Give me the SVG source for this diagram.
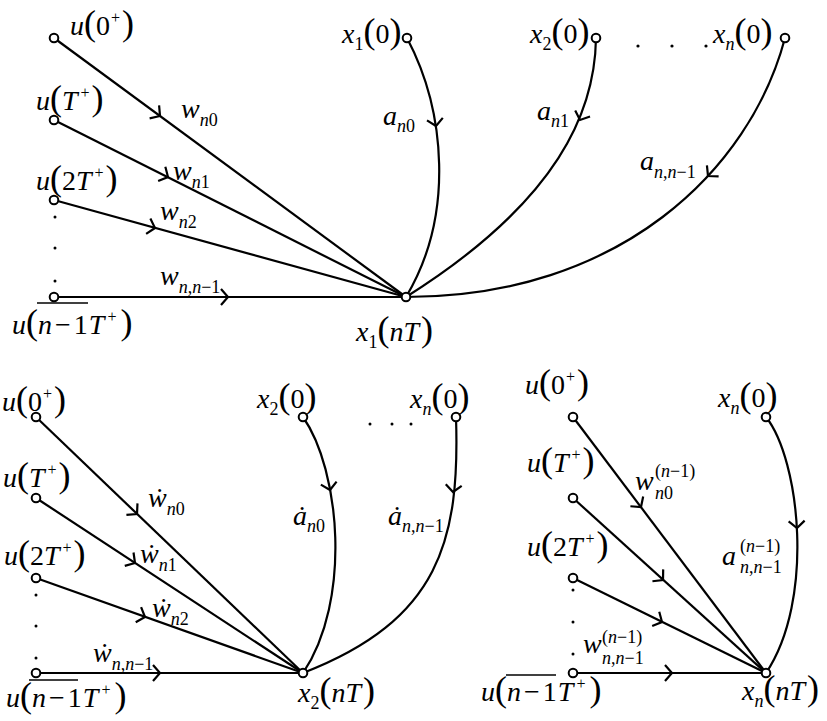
<svg xmlns="http://www.w3.org/2000/svg" xmlns:xlink="http://www.w3.org/1999/xlink" width="827" height="721" viewBox="0 0 827 721">
<style>
.lab{font-family:"Liberation Serif","Times New Roman",serif;font-size:28px;fill:#000}
.it{font-style:italic}
.pr{font-size:36px;font-style:normal}
.sb{font-size:18px}
.sp{font-size:16px}
.edge{fill:none;stroke:#000;stroke-width:2.2}
.nd{fill:#fff;stroke:#000;stroke-width:2}
.ol{stroke:#000;stroke-width:1.6}
.dot{fill:#000}
</style>
<defs>
<path id="ah" d="M-7,-8 L0,0 L-7,8" fill="none" stroke="#000" stroke-width="2.2"/>
</defs>
<rect width="827" height="721" fill="#fff"/>

<g id="connectors">
<path class="edge" d="M54,38 L406,297"/>
<path class="edge" d="M54,120 L406,297"/>
<path class="edge" d="M54,200 L406,297"/>
<path class="edge" d="M54,297 L406,297"/>
<path class="edge" d="M407,38 C445,110 455,215 406,297"/>
<path class="edge" d="M596,38 C595,110 560,200 406,297"/>
<path class="edge" d="M785,38 C750,170 620,297 406,297"/>
<use xlink:href="#ah" transform="translate(160,116) rotate(36.3)"/>
<use xlink:href="#ah" transform="translate(168,177) rotate(26.7)"/>
<use xlink:href="#ah" transform="translate(155,228) rotate(15.4)"/>
<use xlink:href="#ah" transform="translate(228,297)"/>
<use xlink:href="#ah" transform="translate(436,126) rotate(81)"/>
<use xlink:href="#ah" transform="translate(580,120) rotate(112)"/>
<use xlink:href="#ah" transform="translate(708,176) rotate(133)"/>
<path class="edge" d="M36,417 L303,673"/>
<path class="edge" d="M36,498 L303,673"/>
<path class="edge" d="M36,578 L303,673"/>
<path class="edge" d="M36,673 L303,673"/>
<path class="edge" d="M303,417 C340,470 352,600 303,673"/>
<path class="edge" d="M456,417 C460,540 440,620 303,673"/>
<use xlink:href="#ah" transform="translate(137,514) rotate(43.8)"/>
<use xlink:href="#ah" transform="translate(135,563) rotate(33.2)"/>
<use xlink:href="#ah" transform="translate(145,617) rotate(19.6)"/>
<use xlink:href="#ah" transform="translate(160,673)"/>
<use xlink:href="#ah" transform="translate(330,490) rotate(79.5)"/>
<use xlink:href="#ah" transform="translate(453,492) rotate(96)"/>
<path class="edge" d="M573,417 L766,673"/>
<path class="edge" d="M573,498 L766,673"/>
<path class="edge" d="M573,578 L766,673"/>
<path class="edge" d="M573,673 L766,673"/>
<path class="edge" d="M766,417 C800,460 815,600 766,673"/>
<use xlink:href="#ah" transform="translate(641,507) rotate(53)"/>
<use xlink:href="#ah" transform="translate(663,580) rotate(42.2)"/>
<use xlink:href="#ah" transform="translate(662,622) rotate(26.2)"/>
<use xlink:href="#ah" transform="translate(672,673)"/>
<use xlink:href="#ah" transform="translate(797,528) rotate(87)"/>
</g>

<g id="edge-labels">
<text class="lab" x="181" y="118"><tspan class="it">w</tspan><tspan class="sb" dy="8"><tspan class="it">n</tspan>0</tspan></text>
<text class="lab" x="173" y="180"><tspan class="it">w</tspan><tspan class="sb" dy="8"><tspan class="it">n</tspan>1</tspan></text>
<text class="lab" x="160" y="220"><tspan class="it">w</tspan><tspan class="sb" dy="8"><tspan class="it">n</tspan>2</tspan></text>
<text class="lab" x="160" y="285"><tspan class="it">w</tspan><tspan class="sb" dy="8"><tspan class="it">n</tspan>,<tspan class="it">n</tspan>−1</tspan></text>
<text class="lab" x="383" y="125"><tspan class="it">a</tspan><tspan class="sb" dy="7"><tspan class="it">n</tspan>0</tspan></text>
<text class="lab" x="537" y="120"><tspan class="it">a</tspan><tspan class="sb" dy="7"><tspan class="it">n</tspan>1</tspan></text>
<text class="lab" x="640" y="170"><tspan class="it">a</tspan><tspan class="sb" dy="8"><tspan class="it">n</tspan>,<tspan class="it">n</tspan>−1</tspan></text>

<text class="lab" x="148" y="507"><tspan class="it">ẇ</tspan><tspan class="sb" dy="8"><tspan class="it">n</tspan>0</tspan></text>
<text class="lab" x="140" y="563"><tspan class="it">ẇ</tspan><tspan class="sb" dy="8"><tspan class="it">n</tspan>1</tspan></text>
<text class="lab" x="152" y="617"><tspan class="it">ẇ</tspan><tspan class="sb" dy="8"><tspan class="it">n</tspan>2</tspan></text>
<text class="lab" x="93" y="662"><tspan class="it">ẇ</tspan><tspan class="sb" dy="8"><tspan class="it">n</tspan>,<tspan class="it">n</tspan>−1</tspan></text>
<text class="lab" x="293" y="525"><tspan class="it">ȧ</tspan><tspan class="sb" dy="7"><tspan class="it">n</tspan>0</tspan></text>
<text class="lab" x="388" y="525"><tspan class="it">ȧ</tspan><tspan class="sb" dy="7"><tspan class="it">n</tspan>,<tspan class="it">n</tspan>−1</tspan></text>

<text class="lab" x="635" y="490"><tspan class="it">w</tspan><tspan class="sb" x="655" y="477">(<tspan class="it">n</tspan>−1)</tspan><tspan class="sb" x="655" y="499"><tspan class="it">n</tspan>0</tspan></text>
<text class="lab" x="722" y="565"><tspan class="it">a</tspan><tspan class="sb" x="740" y="552">(<tspan class="it">n</tspan>−1)</tspan><tspan class="sb" x="740" y="573"><tspan class="it">n</tspan>,<tspan class="it">n</tspan>−1</tspan></text>
<text class="lab" x="583" y="653"><tspan class="it">w</tspan><tspan class="sb" x="602" y="643">(<tspan class="it">n</tspan>−1)</tspan><tspan class="sb" x="602" y="664"><tspan class="it">n</tspan>,<tspan class="it">n</tspan>−1</tspan></text>
</g>

<g id="top-u0">
<circle class="nd" cx="54" cy="38" r="4.3"/>
<text class="lab" x="70" y="35"><tspan class="it">u</tspan><tspan class="pr">(</tspan>0<tspan class="sp" dy="-12" dx="1">+</tspan><tspan class="pr" dy="12" dx="2">)</tspan></text>
</g>
<g id="top-uT">
<circle class="nd" cx="54" cy="120" r="4.3"/>
<text class="lab" x="36" y="110"><tspan class="it">u</tspan><tspan class="pr">(</tspan><tspan class="it">T</tspan><tspan class="sp" dy="-12" dx="3">+</tspan><tspan class="pr" dy="12" dx="2">)</tspan></text>
</g>
<g id="top-u2T">
<circle class="nd" cx="54" cy="200" r="4.3"/>
<text class="lab" x="36" y="190"><tspan class="it">u</tspan><tspan class="pr">(</tspan>2<tspan class="it">T</tspan><tspan class="sp" dy="-12" dx="3">+</tspan><tspan class="pr" dy="12" dx="2">)</tspan></text>
<circle class="dot" cx="55" cy="217" r="1.5"/>
<circle class="dot" cx="55" cy="248" r="1.5"/>
<circle class="dot" cx="55" cy="281" r="1.5"/>
</g>
<g id="top-un">
<circle class="nd" cx="54" cy="297" r="4.3"/>
<text class="lab" x="12" y="334"><tspan class="it">u</tspan><tspan class="pr">(</tspan><tspan class="it">n</tspan><tspan dx="3">−</tspan><tspan dx="3">1</tspan><tspan class="it" dx="1">T</tspan><tspan class="sp" dy="-12" dx="3">+</tspan><tspan class="pr" dy="12" dx="4">)</tspan></text>
<line class="ol" x1="37" y1="303" x2="88" y2="303"/>
</g>
<g id="top-x1-0">
<circle class="nd" cx="407" cy="38" r="4.3"/>
<text class="lab" x="342" y="43"><tspan class="it">x</tspan><tspan class="sb" dy="7">1</tspan><tspan class="pr" dy="-7">(</tspan>0<tspan class="pr">)</tspan></text>
</g>
<g id="top-x2-0">
<circle class="nd" cx="596" cy="38" r="4.3"/>
<text class="lab" x="530" y="43"><tspan class="it">x</tspan><tspan class="sb" dy="7">2</tspan><tspan class="pr" dy="-7">(</tspan>0<tspan class="pr">)</tspan></text>
<circle class="dot" cx="638" cy="46" r="1.6"/>
<circle class="dot" cx="672" cy="46" r="1.6"/>
<circle class="dot" cx="706" cy="46" r="1.6"/>
</g>
<g id="top-xn-0">
<circle class="nd" cx="785" cy="38" r="4.3"/>
<text class="lab" x="713" y="43"><tspan class="it">x</tspan><tspan class="sb it" dy="7">n</tspan><tspan class="pr" dy="-7">(</tspan>0<tspan class="pr">)</tspan></text>
</g>
<g id="top-x1-nT">
<circle class="nd" cx="406" cy="297" r="4.3"/>
<text class="lab" x="356" y="341"><tspan class="it">x</tspan><tspan class="sb" dy="7">1</tspan><tspan class="pr" dy="-7">(</tspan><tspan class="it">nT</tspan><tspan class="pr" dx="2">)</tspan></text>
</g>

<g id="bl-u0">
<circle class="nd" cx="36" cy="417" r="4.3"/>
<text class="lab" x="2" y="411"><tspan class="it">u</tspan><tspan class="pr">(</tspan>0<tspan class="sp" dy="-12" dx="1">+</tspan><tspan class="pr" dy="12" dx="2">)</tspan></text>
</g>
<g id="bl-uT">
<circle class="nd" cx="36" cy="498" r="4.3"/>
<text class="lab" x="3" y="487"><tspan class="it">u</tspan><tspan class="pr">(</tspan><tspan class="it">T</tspan><tspan class="sp" dy="-12" dx="3">+</tspan><tspan class="pr" dy="12" dx="2">)</tspan></text>
</g>
<g id="bl-u2T">
<circle class="nd" cx="36" cy="578" r="4.3"/>
<text class="lab" x="4" y="565"><tspan class="it">u</tspan><tspan class="pr">(</tspan>2<tspan class="it">T</tspan><tspan class="sp" dy="-12" dx="3">+</tspan><tspan class="pr" dy="12" dx="2">)</tspan></text>
<circle class="dot" cx="36" cy="595" r="1.5"/>
<circle class="dot" cx="36" cy="626" r="1.5"/>
<circle class="dot" cx="36" cy="658" r="1.5"/>
</g>
<g id="bl-un">
<circle class="nd" cx="36" cy="673" r="4.3"/>
<text class="lab" x="6" y="707"><tspan class="it">u</tspan><tspan class="pr">(</tspan><tspan class="it">n</tspan><tspan dx="3">−</tspan><tspan dx="3">1</tspan><tspan class="it" dx="1">T</tspan><tspan class="sp" dy="-12" dx="3">+</tspan><tspan class="pr" dy="12" dx="4">)</tspan></text>
<line class="ol" x1="29" y1="680" x2="78" y2="680"/>
</g>
<g id="bl-x2-0">
<circle class="nd" cx="303" cy="417" r="4.3"/>
<text class="lab" x="257" y="408"><tspan class="it">x</tspan><tspan class="sb" dy="7">2</tspan><tspan class="pr" dy="-7">(</tspan>0<tspan class="pr">)</tspan></text>
</g>
<g id="bl-xn-0">
<circle class="nd" cx="456" cy="417" r="4.3"/>
<text class="lab" x="410" y="408"><tspan class="it">x</tspan><tspan class="sb it" dy="7">n</tspan><tspan class="pr" dy="-7">(</tspan>0<tspan class="pr">)</tspan></text>
<circle class="dot" cx="370" cy="424" r="1.5"/>
<circle class="dot" cx="392" cy="424" r="1.5"/>
<circle class="dot" cx="411" cy="424" r="1.5"/>
</g>
<g id="bl-x2-nT">
<circle class="nd" cx="303" cy="673" r="4.3"/>
<text class="lab" x="298" y="702"><tspan class="it">x</tspan><tspan class="sb" dy="7">2</tspan><tspan class="pr" dy="-7">(</tspan><tspan class="it">nT</tspan><tspan class="pr" dx="2">)</tspan></text>
</g>

<g id="br-u0">
<circle class="nd" cx="573" cy="417" r="4.3"/>
<text class="lab" x="525" y="394"><tspan class="it">u</tspan><tspan class="pr">(</tspan>0<tspan class="sp" dy="-12" dx="1">+</tspan><tspan class="pr" dy="12" dx="2">)</tspan></text>
</g>
<g id="br-uT">
<circle class="nd" cx="573" cy="498" r="4.3"/>
<text class="lab" x="527" y="472"><tspan class="it">u</tspan><tspan class="pr">(</tspan><tspan class="it">T</tspan><tspan class="sp" dy="-12" dx="3">+</tspan><tspan class="pr" dy="12" dx="2">)</tspan></text>
</g>
<g id="br-u2T">
<circle class="nd" cx="573" cy="578" r="4.3"/>
<text class="lab" x="527" y="556"><tspan class="it">u</tspan><tspan class="pr">(</tspan>2<tspan class="it">T</tspan><tspan class="sp" dy="-12" dx="3">+</tspan><tspan class="pr" dy="12" dx="2">)</tspan></text>
<circle class="dot" cx="573" cy="590" r="1.5"/>
<circle class="dot" cx="573" cy="622" r="1.5"/>
<circle class="dot" cx="573" cy="654" r="1.5"/>
</g>
<g id="br-un">
<circle class="nd" cx="573" cy="673" r="4.3"/>
<text class="lab" x="481" y="701"><tspan class="it">u</tspan><tspan class="pr">(</tspan><tspan class="it">n</tspan><tspan dx="3">−</tspan><tspan dx="3">1</tspan><tspan class="it" dx="1">T</tspan><tspan class="sp" dy="-12" dx="3">+</tspan><tspan class="pr" dy="12" dx="4">)</tspan></text>
<line class="ol" x1="506" y1="675" x2="556" y2="675"/>
</g>
<g id="br-xn-0">
<circle class="nd" cx="766" cy="417" r="4.3"/>
<text class="lab" x="718" y="407"><tspan class="it">x</tspan><tspan class="sb it" dy="7">n</tspan><tspan class="pr" dy="-7">(</tspan>0<tspan class="pr">)</tspan></text>
</g>
<g id="br-xn-nT">
<circle class="nd" cx="766" cy="673" r="4.3"/>
<text class="lab" x="742" y="700"><tspan class="it">x</tspan><tspan class="sb it" dy="7">n</tspan><tspan class="pr" dy="-7">(</tspan><tspan class="it">nT</tspan><tspan class="pr" dx="2">)</tspan></text>
</g>
</svg>
